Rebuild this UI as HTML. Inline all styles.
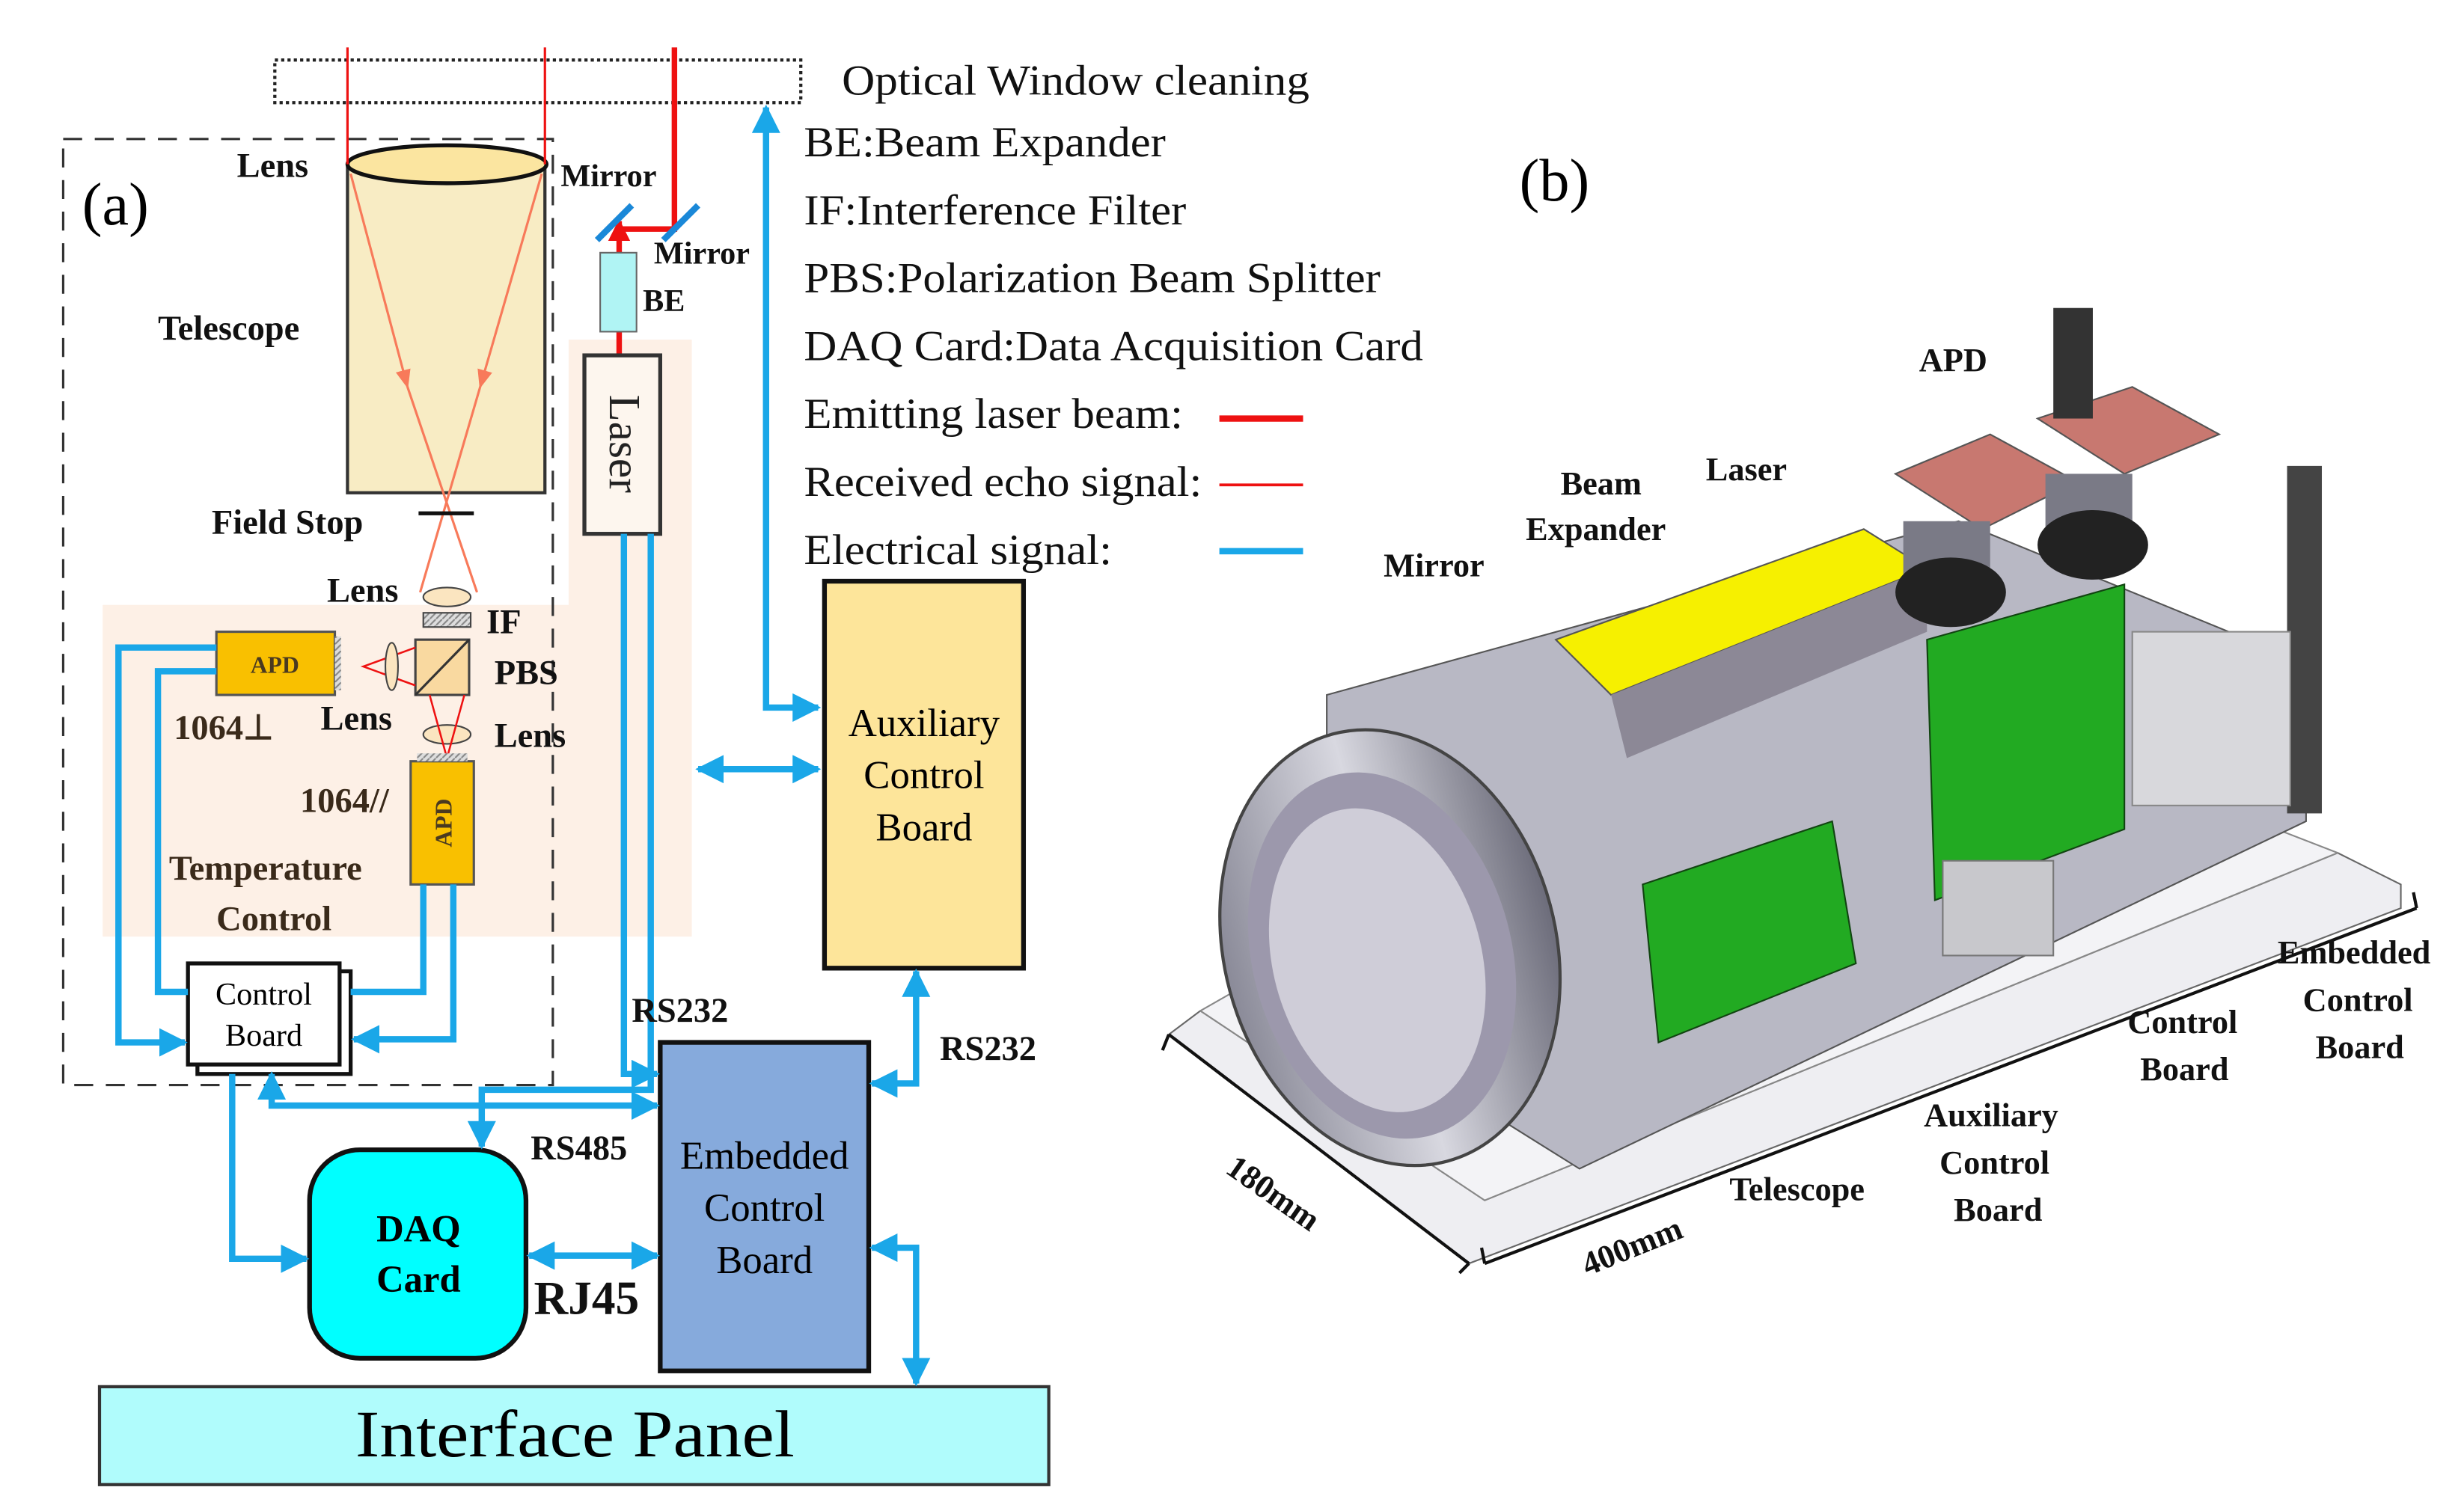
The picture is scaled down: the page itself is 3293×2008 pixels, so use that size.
<!DOCTYPE html>
<html><head><meta charset="utf-8"><style>
html,body{margin:0;padding:0;background:#fff}
svg{display:block}
text{font-family:"Liberation Serif",serif}
.b{font-weight:bold}
</style></head><body>
<svg width="3293" height="2008" viewBox="0 0 1560 951" preserveAspectRatio="none" xmlns="http://www.w3.org/2000/svg">
<defs>
<marker id="ab" viewBox="0 0 10 10" refX="9" refY="5" markerWidth="4.5" markerHeight="4.5" orient="auto-start-reverse" markerUnits="strokeWidth"><path d="M0,0L10,5L0,10z" fill="#1aa7e8"/></marker>
<marker id="ar" viewBox="0 0 10 10" refX="9" refY="5" markerWidth="8" markerHeight="8" orient="auto"><path d="M0,1L10,5L0,9z" fill="#f87a5a"/></marker>
<marker id="arb" viewBox="0 0 10 10" refX="9" refY="5" markerWidth="4" markerHeight="4" orient="auto"><path d="M0,0L10,5L0,10z" fill="#ee1111"/></marker>
<pattern id="hatch" width="4" height="4" patternUnits="userSpaceOnUse"><rect width="4" height="4" fill="#ddd"/><path d="M0,4L4,0" stroke="#888" stroke-width="1"/></pattern>
<linearGradient id="cyl" x1="0" x2="1"><stop offset="0" stop-color="#8a8a98"/><stop offset=".5" stop-color="#d8d8e0"/><stop offset="1" stop-color="#6c6c7a"/></linearGradient>
</defs>

<path d="M65,383H360V215H438V593H65Z" fill="#fdf0e6"/>

<rect x="174" y="38" width="333" height="27" fill="none" stroke="#222" stroke-width="2" stroke-dasharray="2,2"/>
<rect x="40" y="88" width="310" height="599" fill="none" stroke="#333" stroke-width="1.5" stroke-dasharray="12,8"/>

<rect x="220" y="104" width="125" height="208" fill="#f8ecc4" stroke="#333" stroke-width="2"/>
<ellipse cx="283" cy="104" rx="63" ry="12" fill="#fbe5a0" stroke="#111" stroke-width="2.5"/>
<line x1="220" y1="30" x2="220" y2="104" stroke="#ee1111" stroke-width="1.5"/>
<line x1="345" y1="30" x2="345" y2="104" stroke="#ee1111" stroke-width="1.5"/>
<line x1="222" y1="110" x2="258" y2="245" stroke="#f87a5a" stroke-width="1.5" marker-end="url(#ar)"/>
<line x1="258" y1="245" x2="302" y2="375" stroke="#f87a5a" stroke-width="1.5"/>
<line x1="343" y1="110" x2="304" y2="245" stroke="#f87a5a" stroke-width="1.5" marker-end="url(#ar)"/>
<line x1="304" y1="245" x2="266" y2="375" stroke="#f87a5a" stroke-width="1.5"/>
<line x1="265" y1="325" x2="300" y2="325" stroke="#111" stroke-width="2.5"/>
<ellipse cx="283" cy="378" rx="15" ry="6" fill="#fbe5c0" stroke="#444"/>
<rect x="268" y="388" width="30" height="9" fill="url(#hatch)" stroke="#444"/>
<rect x="263" y="405" width="34" height="35" fill="#f9d9a0" stroke="#444" stroke-width="1.5"/>
<line x1="263" y1="440" x2="297" y2="405" stroke="#333" stroke-width="1.5"/>
<path d="M263,410L230,422L263,434" fill="none" stroke="#ee1111" stroke-width="1.2"/>
<ellipse cx="248" cy="422" rx="4" ry="15" fill="#fbe5c0" stroke="#444"/>
<ellipse cx="283" cy="465" rx="15" ry="6" fill="#fbe5c0" stroke="#444"/>
<path d="M272,440L283,480L294,440" fill="none" stroke="#ee1111" stroke-width="1.2"/>
<rect x="137" y="400" width="75" height="40" fill="#f9c000" stroke="#555" stroke-width="1.5"/>
<rect x="212" y="403" width="4" height="34" fill="url(#hatch)"/>
<text x="174" y="426" font-size="15" text-anchor="middle" class="b" fill="#4a3a20">APD</text>
<rect x="260" y="482" width="40" height="78" fill="#f9c000" stroke="#555" stroke-width="1.5"/>
<rect x="264" y="477" width="32" height="5" fill="url(#hatch)"/>
<text transform="translate(286,521) rotate(-90)" font-size="15" text-anchor="middle" class="b" fill="#4a3a20">APD</text>

<path d="M427,30V145H392" fill="none" stroke="#ee1111" stroke-width="3.5"/>
<line x1="392" y1="225" x2="392" y2="210" stroke="#ee1111" stroke-width="3.5"/>
<line x1="392" y1="160" x2="392" y2="140" stroke="#ee1111" stroke-width="3.5" marker-end="url(#arb)"/>
<line x1="378" y1="152" x2="400" y2="130" stroke="#1a88d8" stroke-width="4"/>
<line x1="420" y1="152" x2="442" y2="130" stroke="#1a88d8" stroke-width="4"/>
<rect x="380" y="160" width="23" height="50" fill="#b0f4f4" stroke="#666"/>
<rect x="370" y="225" width="48" height="113" fill="#fdf6ee" stroke="#333" stroke-width="2.5"/>
<text transform="translate(386,281) rotate(90)" font-size="28" text-anchor="middle" fill="#222">Laser</text>

<rect x="125" y="615" width="97" height="65" fill="#fff" stroke="#111" stroke-width="2.5"/>
<rect x="119" y="610" width="96" height="64" fill="#fff" stroke="#111" stroke-width="2.5"/>
<text x="167" y="636" font-size="20" text-anchor="middle">Control</text>
<text x="167" y="662" font-size="20" text-anchor="middle">Board</text>
<rect x="522" y="368" width="126" height="245" fill="#fde59a" stroke="#111" stroke-width="3"/>
<text x="585" y="466" font-size="25" text-anchor="middle">Auxiliary</text>
<text x="585" y="499" font-size="25" text-anchor="middle">Control</text>
<text x="585" y="532" font-size="25" text-anchor="middle">Board</text>
<rect x="418" y="660" width="132" height="208" fill="#86aadc" stroke="#111" stroke-width="3"/>
<text x="484" y="740" font-size="25" text-anchor="middle">Embedded</text>
<text x="484" y="773" font-size="25" text-anchor="middle">Control</text>
<text x="484" y="806" font-size="25" text-anchor="middle">Board</text>
<rect x="196" y="728" width="137" height="132" rx="32" fill="#00ffff" stroke="#111" stroke-width="3"/>
<text x="265" y="786" font-size="24" text-anchor="middle" class="b">DAQ</text>
<text x="265" y="818" font-size="24" text-anchor="middle" class="b">Card</text>
<rect x="63" y="878" width="601" height="62" fill="#b0fcfc" stroke="#333" stroke-width="2"/>
<text x="364" y="922" font-size="42" text-anchor="middle" textLength="278" lengthAdjust="spacingAndGlyphs">Interface Panel</text>

<g fill="none" stroke="#1aa7e8" stroke-width="4">
<path d="M485,68V448H518" marker-start="url(#ab)" marker-end="url(#ab)"/>
<path d="M442,487H518" marker-start="url(#ab)" marker-end="url(#ab)"/>
<path d="M137,410H75V660H117" marker-end="url(#ab)"/>
<path d="M137,425H100V628H119"/>
<path d="M268,560V628H222"/>
<path d="M287,560V658H224" marker-end="url(#ab)"/>
<path d="M147,680V797H194" marker-end="url(#ab)"/>
<path d="M172,680V700H416" marker-start="url(#ab)" marker-end="url(#ab)"/>
<path d="M412,338V690H305V726" marker-end="url(#ab)"/>
<path d="M395,338V680H416" marker-end="url(#ab)"/>
<path d="M335,795H416" marker-start="url(#ab)" marker-end="url(#ab)"/>
<path d="M580,615V686H552" marker-start="url(#ab)" marker-end="url(#ab)"/>
<path d="M552,790H580V876" marker-start="url(#ab)" marker-end="url(#ab)"/>
</g>

<g class="b" font-size="22" fill="#111">
<text x="150" y="112">Lens</text>
<text x="355" y="118" font-size="20">Mirror</text>
<text x="414" y="167" font-size="20">Mirror</text>
<text x="407" y="197" font-size="20">BE</text>
<text x="100" y="215">Telescope</text>
<text x="134" y="338">Field Stop</text>
<text x="207" y="381">Lens</text>
<text x="308" y="401">IF</text>
<text x="313" y="433">PBS</text>
<text x="203" y="462">Lens</text>
<text x="313" y="473">Lens</text>
<text x="110" y="468" fill="#3a2a1a">1064⊥</text>
<text x="190" y="514" fill="#3a2a1a">1064//</text>
<text x="107" y="557" fill="#3a2a1a">Temperature</text>
<text x="137" y="589" fill="#3a2a1a">Control</text>
<text x="400" y="647">RS232</text>
<text x="595" y="671">RS232</text>
<text x="336" y="734">RS485</text>
<text x="338" y="832" font-size="30">RJ45</text>
</g>
<text x="52" y="142" font-size="38">(a)</text>
<text x="962" y="127" font-size="38">(b)</text>

<g font-size="27" fill="#111">
<text x="533" y="60" textLength="296" lengthAdjust="spacingAndGlyphs">Optical Window cleaning</text>
<text x="509" y="99" textLength="229" lengthAdjust="spacingAndGlyphs">BE:Beam Expander</text>
<text x="509" y="142" textLength="242" lengthAdjust="spacingAndGlyphs">IF:Interference Filter</text>
<text x="509" y="185" textLength="365" lengthAdjust="spacingAndGlyphs">PBS:Polarization Beam Splitter</text>
<text x="509" y="228" textLength="392" lengthAdjust="spacingAndGlyphs">DAQ Card:Data Acquisition Card</text>
<text x="509" y="271" textLength="240" lengthAdjust="spacingAndGlyphs">Emitting laser beam:</text>
<text x="509" y="314" textLength="252" lengthAdjust="spacingAndGlyphs">Received echo signal:</text>
<text x="509" y="357" textLength="195" lengthAdjust="spacingAndGlyphs">Electrical signal:</text>
</g>
<line x1="772" y1="265" x2="825" y2="265" stroke="#ee1111" stroke-width="4"/>
<line x1="772" y1="307" x2="825" y2="307" stroke="#ee1111" stroke-width="1.8"/>
<line x1="772" y1="349" x2="825" y2="349" stroke="#1aa7e8" stroke-width="4"/>

<!-- (b) device approx -->
<polygon points="740,655 930,800 1520,575 1520,560 1480,540 940,760 760,640" fill="#eeeef2" stroke="#666" stroke-width="1"/>
<polygon points="760,640 940,760 1480,540 1300,470 900,560" fill="#f3f3f6" stroke="#888"/>
<polygon points="840,440 1240,330 1460,420 1460,520 1000,740 840,640" fill="#b8b8c4" stroke="#555"/>
<polygon points="985,405 1180,335 1220,360 1020,440" fill="#f6f000" stroke="#555"/>
<polygon points="1020,440 1220,360 1220,400 1030,480" fill="#8c8896"/>
<polygon points="1200,300 1260,275 1315,305 1255,335" fill="#c87870" stroke="#555"/>
<polygon points="1290,265 1350,245 1405,275 1345,300" fill="#c87870" stroke="#555"/>
<rect x="1205" y="330" width="55" height="40" fill="#7a7a86"/>
<rect x="1295" y="300" width="55" height="40" fill="#7a7a86"/>
<ellipse cx="1235" cy="375" rx="35" ry="22" fill="#222"/>
<ellipse cx="1325" cy="345" rx="35" ry="22" fill="#222"/>
<polygon points="1220,405 1345,370 1345,525 1225,570" fill="#22aa22" stroke="#114411"/>
<polygon points="1040,560 1160,520 1175,610 1050,660" fill="#22aa22" stroke="#114411"/>
<rect x="1300" y="195" width="25" height="70" fill="#333"/>
<rect x="1448" y="295" width="22" height="220" fill="#444"/>
<rect x="1230" y="545" width="70" height="60" fill="#c8c8cc" stroke="#777"/>
<rect x="1350" y="400" width="100" height="110" fill="#d8d8dc" stroke="#888"/>
<ellipse cx="880" cy="600" rx="105" ry="140" fill="url(#cyl)" stroke="#444" stroke-width="2" transform="rotate(-15 880 600)"/>
<ellipse cx="875" cy="605" rx="82" ry="118" fill="#9c98ac" transform="rotate(-15 875 605)"/>
<ellipse cx="872" cy="608" rx="66" ry="98" fill="#cfcdd8" transform="rotate(-15 872 608)"/>
<path d="M740,655L930,800M740,655L736,665M930,800L924,806" stroke="#111" stroke-width="2" fill="none"/>
<path d="M940,800L1530,575M940,800L938,790M1530,575L1528,565" stroke="#111" stroke-width="2" fill="none"/>
<g class="b" font-size="21" fill="#111">
<text x="1215" y="235">APD</text>
<text x="988" y="313">Beam</text>
<text x="966" y="342">Expander</text>
<text x="1080" y="304">Laser</text>
<text x="876" y="365">Mirror</text>
<text x="1095" y="760">Telescope</text>
<text x="1218" y="713">Auxiliary</text>
<text x="1228" y="743">Control</text>
<text x="1237" y="773">Board</text>
<text x="1347" y="654">Control</text>
<text x="1355" y="684">Board</text>
<text x="1442" y="610">Embedded</text>
<text x="1458" y="640">Control</text>
<text x="1466" y="670">Board</text>
<text transform="translate(775,742) rotate(35)">180mm</text>
<text transform="translate(1005,808) rotate(-22)">400mm</text>
</g>
</svg>
</body></html>
